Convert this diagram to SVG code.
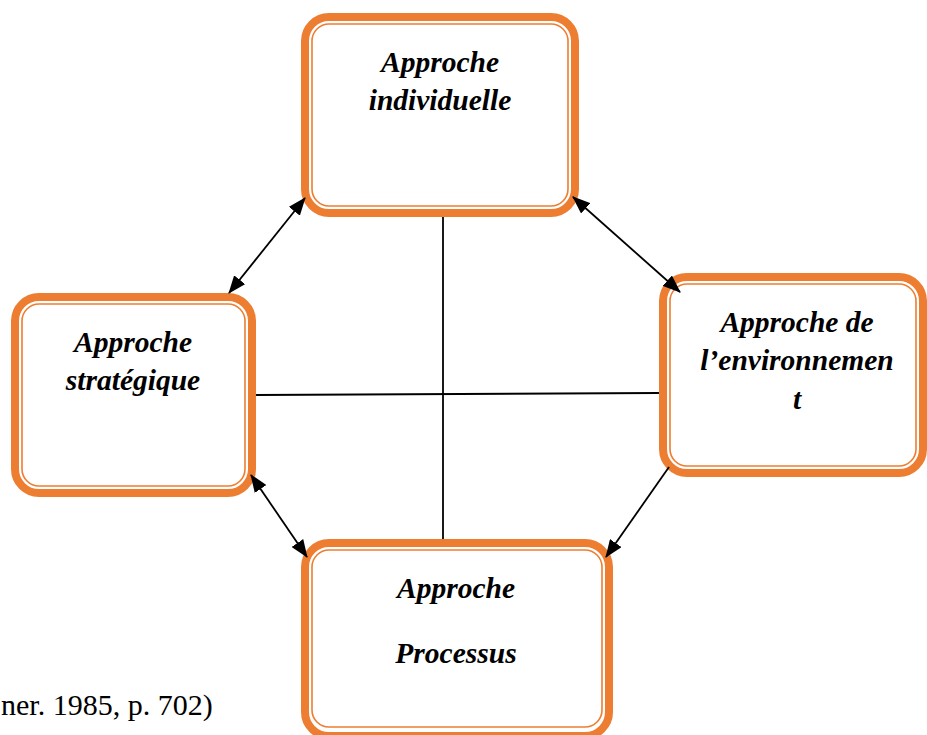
<svg xmlns="http://www.w3.org/2000/svg" width="927" height="735" viewBox="0 0 927 735">
<defs>
<style>
.outer{fill:#fff;stroke:#ED7D31;stroke-width:8}
.inner{fill:none;stroke:#ED7D31;stroke-width:1.6}
.lbl{font-family:"Liberation Serif","Times New Roman",serif;font-weight:bold;font-style:italic;font-size:29.5px;fill:#000;text-anchor:middle}
.cap{font-family:"Liberation Serif","Times New Roman",serif;font-size:30px;fill:#000}
.ln{stroke:#000;stroke-width:1.8;fill:none}
.ar{stroke:#000;stroke-width:1.8;fill:none;marker-end:url(#ah)}
.ar2{stroke:#000;stroke-width:1.8;fill:none;marker-start:url(#ah);marker-end:url(#ah)}
</style>
<marker id="ah" viewBox="0 0 18 14" refX="17" refY="7" markerWidth="18" markerHeight="14" markerUnits="userSpaceOnUse" orient="auto-start-reverse">
<path d="M0,0 L18,7 L0,14 Z" fill="#000"/>
</marker>
</defs>
<rect width="927" height="735" fill="#fff"/>
<g id="node-individuelle">
<rect class="outer" x="305" y="17" width="270" height="196" rx="24"/>
<rect class="inner" x="312" y="24" width="256" height="182" rx="17"/>
<text class="lbl" x="440" y="72">Approche</text>
<text class="lbl" x="440" y="110">individuelle</text>
</g>
<g id="node-strategique">
<rect class="outer" x="15" y="297" width="237" height="196" rx="24"/>
<rect class="inner" x="22" y="304" width="223" height="182" rx="17"/>
<text class="lbl" x="133" y="352">Approche</text>
<text class="lbl" x="133" y="390">stratégique</text>
</g>
<g id="node-environnement">
<rect class="outer" x="663" y="277" width="260" height="196" rx="24"/>
<rect class="inner" x="670" y="284" width="246" height="182" rx="17"/>
<text class="lbl" x="797" y="332">Approche de</text>
<text class="lbl" x="797" y="370">l’environnemen</text>
<text class="lbl" x="797" y="409">t</text>
</g>
<g id="node-processus">
<rect class="outer" x="305" y="543" width="304" height="193" rx="24"/>
<rect class="inner" x="312" y="550" width="290" height="177" rx="17"/>
<text class="lbl" x="456" y="598">Approche</text>
<text class="lbl" x="456" y="663">Processus</text>
</g>
<g id="connectors">
<line class="ln" x1="443" y1="217" x2="443" y2="539"/>
<line class="ln" x1="256" y1="395" x2="659" y2="393"/>
<line class="ar2" x1="229" y1="293" x2="305" y2="198"/>
<line class="ar2" x1="573" y1="197" x2="680" y2="292"/>
<line class="ar2" x1="251" y1="475" x2="307" y2="557"/>
<line class="ar" x1="669" y1="467" x2="606" y2="557"/>
</g>
<text class="cap" x="1" y="715">ner. 1985, p. 702)</text>
</svg>
